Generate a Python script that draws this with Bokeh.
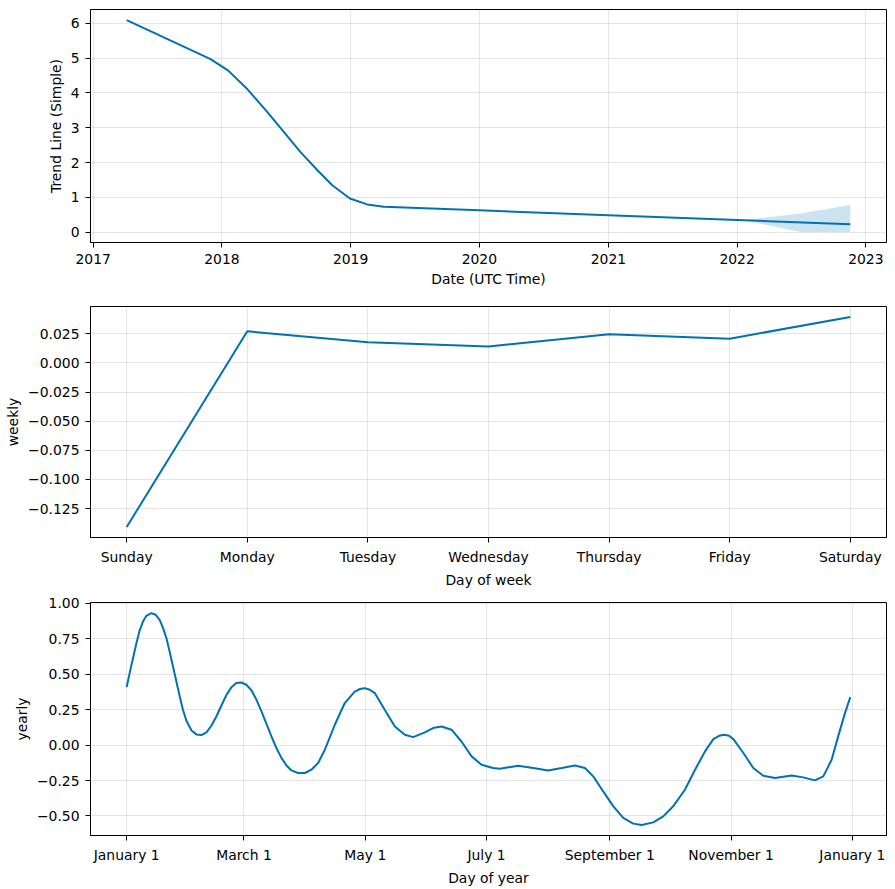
import pandas as pd
from bokeh.plotting import figure
from bokeh.layouts import column
from bokeh.models import Range1d, FixedTicker, CustomJSTickFormatter
from bokeh.embed import file_html
from bokeh.resources import INLINE

# ---------------- data ----------------
trend_dates = ["2017-04-06", "2017-11-30", "2018-01-19", "2018-03-14", "2018-05-10",
               "2018-08-12", "2018-09-29", "2018-11-10", "2018-12-30", "2019-02-17",
               "2019-04-05", "2020-01-01", "2021-01-01", "2022-01-01", "2022-11-18"]
trend_values = [6.09, 4.97, 4.64, 4.11, 3.45, 2.30, 1.78, 1.35, 0.97, 0.80,
                0.73, 0.63, 0.49, 0.35, 0.23]
band_dates = ["2022-01-01", "2022-01-20", "2022-06-29", "2022-11-18"]
band_lower = [0.35, 0.345, 0.01, 0.01]
band_upper = [0.35, 0.35, 0.54, 0.78]
year_ticks = ["2017", "2018", "2019", "2020", "2021", "2022", "2023"]

week_days = ["Sunday", "Monday", "Tuesday", "Wednesday", "Thursday", "Friday", "Saturday"]
weekly_values = [-0.1408, 0.0271, 0.0178, 0.0141, 0.0245, 0.0208, 0.0394]
weekly_ticks = [-0.125, -0.100, -0.075, -0.050, -0.025, 0.000, 0.025]

yearly_day = [0, 1.5, 3.2, 4.9, 6.5, 8.2, 9.9, 12.4, 14.6, 16.6, 18.3, 20.0, 21.6, 23.3,
              25.0, 26.7, 28.3, 30.0, 32.6, 35.1, 37.6, 40.1, 42.6, 45.1, 47.6, 50.2,
              52.7, 55.2, 57.7, 60.2, 62.8, 65.3, 67.8, 70.3, 72.8, 75.3, 77.9, 80.4,
              82.9, 86.2, 89.6, 92.9, 96.3, 99.7, 104.7, 109.7, 114.7, 117.3,
              119.8, 122.3, 124.8, 129.8, 134.9, 139.9, 144.1, 150, 154.1, 158.4, 163.4, 168.4,
              173.5, 178.5, 184.3, 187.7, 196.9, 204.5, 212, 218.8, 225.5, 230.5, 234.7,
              239.7, 244.8, 249.8, 254.8, 259, 264.9, 269.9, 274.9, 280.8, 285.9, 290.9,
              295.1, 298.0, 300.6, 303.0, 305.2, 310.2, 315.2, 320.2, 326.1, 334.5, 340.3,
              346.2, 350.4, 354.6, 357.9, 361.3, 364]
yearly_values = [0.408, 0.507, 0.613, 0.718, 0.807, 0.870, 0.911, 0.930, 0.918, 0.882,
                 0.824, 0.753, 0.659, 0.554, 0.448, 0.342, 0.249, 0.173, 0.103, 0.075,
                 0.070, 0.089, 0.136, 0.201, 0.277, 0.354, 0.408, 0.437, 0.441, 0.425,
                 0.385, 0.319, 0.237, 0.150, 0.061, -0.021, -0.092, -0.144, -0.179,
                 -0.197, -0.197, -0.174, -0.127, -0.033, 0.143, 0.296, 0.377, 0.395,
                 0.401, 0.390, 0.366, 0.249, 0.131, 0.073,
                 0.056, 0.089, 0.12, 0.131, 0.108, 0.025, -0.08, -0.139, -0.162, -0.167,
                 -0.146, -0.162, -0.179, -0.162, -0.144, -0.162, -0.221, -0.327, -0.432,
                 -0.514, -0.554, -0.563, -0.545, -0.503, -0.432, -0.315, -0.174, -0.045,
                 0.042, 0.065, 0.073, 0.065, 0.042, -0.056, -0.162, -0.216, -0.232, -0.214,
                 -0.228, -0.249, -0.221, -0.104, 0.061, 0.225, 0.338]
month_tick_days = [0, 59, 120, 181, 243, 304, 365]
month_tick_labels = ["January 1", "March 1", "May 1", "July 1", "September 1",
                     "November 1", "January 1"]
yearly_ticks = [-0.50, -0.25, 0.00, 0.25, 0.50, 0.75, 1.00]

# ---------------- style ----------------
BLUE = "#0072B2"
FONT = "DejaVu Sans"
FS = "13.9px"
W = 887


def pad(lo, hi, frac=0.05):
    s = hi - lo
    return lo - frac * s, hi + frac * s


def style(p):
    p.outline_line_color = "black"
    p.outline_line_alpha = 1
    p.outline_line_width = 1
    p.background_fill_color = "white"
    p.border_fill_color = "white"
    for ax in p.axis:
        ax.axis_line_color = "black"
        ax.axis_line_width = 1
        ax.major_tick_line_color = "black"
        ax.major_tick_out = 5
        ax.major_tick_in = 0
        ax.minor_tick_line_color = None
        ax.major_label_text_font = FONT
        ax.major_label_text_font_size = FS
        ax.major_label_text_color = "black"
        ax.major_label_standoff = 6
        ax.axis_label_text_font = FONT
        ax.axis_label_text_font_size = FS
        ax.axis_label_text_font_style = "normal"
        ax.axis_label_text_color = "black"
        ax.axis_label_standoff = 4
    for g in p.grid:
        g.grid_line_color = "gray"
        g.grid_line_alpha = 0.2
        g.grid_line_width = 1


def ymfmt(decimals):
    return CustomJSTickFormatter(
        code="return tick.toFixed(%d).replace('-', '\\u2212');" % decimals)


def make_fig(h, top, bottom, **kw):
    return figure(width=W, height=h, output_backend="svg", toolbar_location=None,
                  min_border_left=90, min_border_right=1,
                  min_border_top=top, min_border_bottom=bottom, **kw)


# ---------------- panel 1: trend ----------------
td = pd.to_datetime(trend_dates)
bd = pd.to_datetime(band_dates)
x0, x1 = pad(td.min().value / 1e6, td.max().value / 1e6)
y0, y1 = pad(min(min(trend_values), min(band_lower)), max(max(trend_values), max(band_upper)))

p1 = make_fig(296, 9, 54, x_axis_type="datetime",
              x_range=Range1d(x0, x1), y_range=Range1d(y0, y1))
p1.varea(x=bd, y1=band_lower, y2=band_upper, fill_color=BLUE, fill_alpha=0.2)
p1.line(td, trend_values, line_color=BLUE, line_width=2)
p1.xaxis.ticker = FixedTicker(ticks=[pd.Timestamp(y + "-01-01").value / 1e6 for y in year_ticks])
p1.xaxis.formatter = CustomJSTickFormatter(code="return String(new Date(tick).getUTCFullYear());")
p1.yaxis.ticker = FixedTicker(ticks=[0, 1, 2, 3, 4, 5, 6])
p1.xaxis.axis_label = "Date (UTC Time)"
p1.yaxis.axis_label = "Trend Line (Simple)"
style(p1)

# ---------------- panel 2: weekly ----------------
wx = list(range(len(week_days)))
wx0, wx1 = pad(wx[0], wx[-1])
wy0, wy1 = pad(min(weekly_values), max(weekly_values))
p2 = make_fig(294, 10, 51, x_range=Range1d(wx0, wx1), y_range=Range1d(wy0, wy1))
p2.line(wx, weekly_values, line_color=BLUE, line_width=2)
p2.xaxis.ticker = FixedTicker(ticks=wx)
p2.xaxis.major_label_overrides = {i: d for i, d in zip(wx, week_days)}
p2.yaxis.ticker = FixedTicker(ticks=weekly_ticks)
p2.yaxis.formatter = ymfmt(3)
p2.xaxis.axis_label = "Day of week"
p2.yaxis.axis_label = "weekly"
style(p2)

# ---------------- panel 3: yearly ----------------
yx0, yx1 = pad(min(yearly_day), max(yearly_day))
yy0, yy1 = pad(min(yearly_values), max(yearly_values))
p3 = make_fig(299, 12, 54, x_range=Range1d(yx0, yx1), y_range=Range1d(yy0, yy1))
p3.line(yearly_day, yearly_values, line_color=BLUE, line_width=2)
p3.xaxis.ticker = FixedTicker(ticks=month_tick_days)
p3.xaxis.major_label_overrides = {d: l for d, l in zip(month_tick_days, month_tick_labels)}
p3.yaxis.ticker = FixedTicker(ticks=yearly_ticks)
p3.yaxis.formatter = ymfmt(2)
p3.xaxis.axis_label = "Day of year"
p3.yaxis.axis_label = "yearly"
style(p3)

layout = column(p1, p2, p3)
open("out.html", "w").write(file_html(layout, INLINE, title="Forecast components"))
